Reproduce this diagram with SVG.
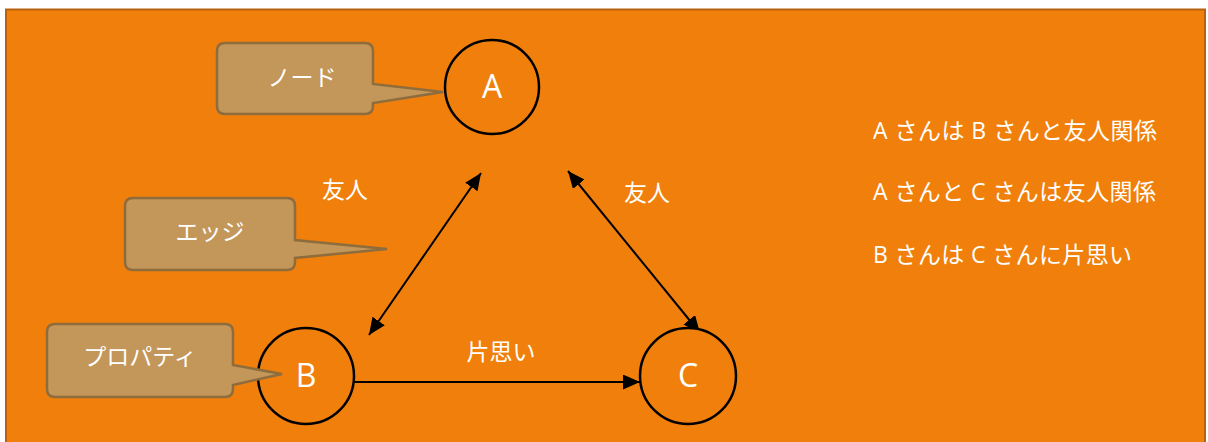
<svg xmlns="http://www.w3.org/2000/svg" width="1208" height="442" viewBox="0 0 1208 442">
<style>
.bg{fill:#F07F0B;stroke:#B8620F;stroke-width:2}
.node{fill:#F07F0B;stroke:#000;stroke-width:2.5}
.nl{fill:#fff;font-family:"Open Sans","Liberation Sans",sans-serif;font-size:32px;text-anchor:middle}
.co{fill:#C3965A;stroke:#8F6C3C;stroke-width:2.5}
.t{fill:#fff;font-family:"Open Sans","Noto Sans CJK JP",sans-serif;font-size:23px}
.c{text-anchor:middle}
.edge{stroke:#000;stroke-width:2;fill:none}
</style>
<defs>
<marker id="ah" markerUnits="userSpaceOnUse" markerWidth="18" markerHeight="15" refX="17" refY="7.5" orient="auto-start-reverse">
<path d="M0,0 L17,7.5 L0,15 Z" fill="#000"/>
</marker>
</defs>
<rect class="bg" x="6" y="9.5" width="1199" height="445"/>
<g id="connectors">
<line class="edge" x1="481" y1="173" x2="369" y2="335" marker-start="url(#ah)" marker-end="url(#ah)"/>
<line class="edge" x1="568" y1="171" x2="700" y2="333" marker-start="url(#ah)" marker-end="url(#ah)"/>
<line class="edge" x1="354" y1="382" x2="640" y2="382" marker-end="url(#ah)"/>
<text class="t c" x="345" y="198">友人</text>
<text class="t c" x="647" y="201">友人</text>
<text class="t c" x="501" y="360">片思い</text>
</g>
<g id="nodeA">
<circle class="node" cx="492" cy="87" r="47"/>
<text class="nl" x="492" y="98">A</text>
</g>
<g id="nodeB">
<circle class="node" cx="306" cy="376" r="48"/>
<text class="nl" x="306" y="387">B</text>
</g>
<g id="nodeC">
<circle class="node" cx="688" cy="376" r="48"/>
<text class="nl" x="688" y="387">C</text>
</g>
<g id="calloutNode">
<path class="co" d="M225,43 H365 Q373,43 373,51 V84 L443,92 L373,103 V106 Q373,114 365,114 H225 Q217,114 217,106 V51 Q217,43 225,43 Z"/>
<text class="t c" x="302" y="86">ノード</text>
</g>
<g id="calloutEdge">
<path class="co" d="M133,198 H287 Q295,198 295,206 V240 L387,249 L295,258 V262 Q295,270 287,270 H133 Q125,270 125,262 V206 Q125,198 133,198 Z"/>
<text class="t c" x="210" y="240">エッジ</text>
</g>
<g id="calloutProperty">
<path class="co" d="M55,324 H225 Q233,324 233,332 V365 L282,374 L233,385 V389 Q233,397 225,397 H55 Q47,397 47,389 V332 Q47,324 55,324 Z"/>
<text class="t c" x="140" y="365">プロパティ</text>
</g>
<g id="notes">
<text class="t" x="873" y="139" textLength="284" lengthAdjust="spacing">A さんは B さんと友人関係</text>
<text class="t" x="873" y="200" textLength="283" lengthAdjust="spacing">A さんと C さんは友人関係</text>
<text class="t" x="873" y="263" textLength="259" lengthAdjust="spacing">B さんは C さんに片思い</text>
</g>
</svg>
